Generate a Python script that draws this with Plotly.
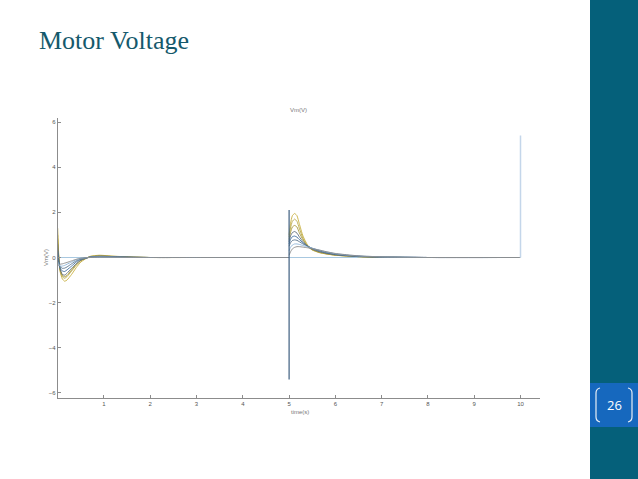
import plotly.graph_objects as go

# ---------------- data ----------------
t_a = [0.0, 0.02, 0.05, 0.1, 0.15, 0.2, 0.3, 0.4, 0.5, 0.7, 0.9, 1.2, 1.6, 2.0, 3.0, 4.99]
t_b = [5.0, 5.03, 5.07, 5.12, 5.17, 5.22, 5.3, 5.4, 5.5, 5.65, 5.8, 6.0, 6.3, 6.6, 7.0, 7.5, 8.0, 9.99]

seg1 = [
    [1.3, 0.2, -0.6, -0.95, -1.05, -1.0, -0.75, -0.45, -0.2, 0.05, 0.1, 0.06, 0.02, 0.0, 0.0, 0.0],
    [1.0, 0.1, -0.55, -0.85, -0.92, -0.85, -0.6, -0.35, -0.15, 0.04, 0.08, 0.05, 0.02, 0.0, 0.0, 0.0],
    [0.8, 0.05, -0.5, -0.8, -0.85, -0.8, -0.55, -0.3, -0.12, 0.03, 0.07, 0.04, 0.01, 0.0, 0.0, 0.0],
    [0.6, 0.0, -0.5, -0.75, -0.78, -0.7, -0.48, -0.28, -0.12, 0.02, 0.06, 0.04, 0.01, 0.0, 0.0, 0.0],
    [0.3, -0.1, -0.45, -0.6, -0.62, -0.55, -0.38, -0.2, -0.08, 0.02, 0.04, 0.03, 0.01, 0.0, 0.0, 0.0],
    [0.0, -0.2, -0.4, -0.48, -0.47, -0.42, -0.28, -0.15, -0.06, 0.01, 0.03, 0.02, 0.01, 0.0, 0.0, 0.0],
    [-0.2, -0.3, -0.38, -0.38, -0.35, -0.3, -0.2, -0.1, -0.04, 0.01, 0.02, 0.01, 0.0, 0.0, 0.0, 0.0],
    [-0.4, -0.35, -0.3, -0.28, -0.25, -0.22, -0.15, -0.08, -0.03, 0.0, 0.01, 0.01, 0.0, 0.0, 0.0, 0.0],
]
seg2 = [
    [1.0, 1.5, 1.85, 1.95, 1.85, 1.5, 0.95, 0.55, 0.35, 0.22, 0.16, 0.1, 0.06, 0.03, 0.01, 0.0, 0.0, 0.0],
    [0.9, 1.3, 1.6, 1.7, 1.6, 1.3, 0.85, 0.5, 0.33, 0.22, 0.16, 0.1, 0.06, 0.03, 0.01, 0.0, 0.0, 0.0],
    [0.8, 1.1, 1.35, 1.42, 1.35, 1.1, 0.78, 0.5, 0.35, 0.24, 0.17, 0.11, 0.06, 0.03, 0.01, 0.0, 0.0, 0.0],
    [0.7, 0.95, 1.1, 1.15, 1.08, 0.92, 0.7, 0.5, 0.37, 0.26, 0.19, 0.12, 0.07, 0.04, 0.02, 0.01, 0.0, 0.0],
    [0.6, 0.8, 0.92, 0.95, 0.9, 0.8, 0.65, 0.5, 0.4, 0.29, 0.21, 0.14, 0.08, 0.04, 0.02, 0.01, 0.0, 0.0],
    [0.5, 0.65, 0.75, 0.78, 0.76, 0.7, 0.6, 0.5, 0.41, 0.31, 0.23, 0.15, 0.09, 0.05, 0.02, 0.01, 0.0, 0.0],
    [0.3, 0.45, 0.55, 0.6, 0.6, 0.58, 0.53, 0.47, 0.41, 0.33, 0.25, 0.17, 0.1, 0.06, 0.03, 0.01, 0.0, 0.0],
    [0.1, 0.25, 0.38, 0.45, 0.48, 0.48, 0.46, 0.43, 0.39, 0.33, 0.26, 0.18, 0.11, 0.06, 0.03, 0.01, 0.0, 0.0],
]
curve_colors = ["#C8B040", "#B8A848", "#A89A3C", "#5F6B78", "#3F6F9F", "#55708A", "#8FB5D8", "#8A8A8A"]

spike5_t = [5.0, 5.0]
spike5_v = [-5.4, 2.1]
spike10_t = [10.0, 10.0]
spike10_v = [0.0, 5.4]
base_t = [0.0, 10.0]
base_v = [0.0, 0.0]

x_ticks = [1, 2, 3, 4, 5, 6, 7, 8, 9, 10]
y_ticks = [-6, -4, -2, 0, 2, 4, 6]

W, H = 638, 479
def px(x):
    return x / W
def py(y):
    return 1 - y / H

fig = go.Figure()
fig.add_trace(go.Scatter(x=base_t, y=base_v, mode="lines",
                         line=dict(color="#A8C8E0", width=1), hoverinfo="skip"))
for i in range(len(seg1)):
    fig.add_trace(go.Scatter(x=t_a, y=seg1[i], mode="lines",
                             line=dict(color=curve_colors[i], width=0.9, shape="spline", smoothing=0.5)))
    fig.add_trace(go.Scatter(x=t_b, y=seg2[i], mode="lines",
                             line=dict(color=curve_colors[i], width=0.9, shape="spline", smoothing=0.5)))
fig.add_trace(go.Scatter(x=spike5_t, y=spike5_v, mode="lines",
                         line=dict(color="#3E5F80", width=1.2)))
fig.add_trace(go.Scatter(x=spike10_t, y=spike10_v, mode="lines",
                         line=dict(color="#C4D6EA", width=1.5)))

axis_common = dict(showline=True, linecolor="#8c8c8c", linewidth=1, ticks="inside",
                   ticklen=3, tickcolor="#8c8c8c", showgrid=False, zeroline=False,
                   tickfont=dict(family="Liberation Sans", size=6, color="#555555"))
fig.update_layout(
    width=W, height=H, margin=dict(l=0, r=0, t=0, b=0),
    paper_bgcolor="white", plot_bgcolor="white", showlegend=False,
    xaxis=dict(domain=[px(57.7), px(540.4)], range=[0, 10.43], tickvals=x_ticks, **axis_common),
    yaxis=dict(domain=[py(397.5), py(117.5)], range=[-6.2, 6.2], tickvals=y_ticks, **axis_common),
)

shapes = [
    dict(type="rect", xref="paper", yref="paper", x0=px(590), x1=1.0, y0=0, y1=1,
         fillcolor="#05607A", line=dict(width=0), layer="below"),
    dict(type="rect", xref="paper", yref="paper", x0=px(590), x1=1.0, y0=py(427), y1=py(383),
         fillcolor="#1668BE", line=dict(width=0), layer="below"),
]
lb = "M {} {} Q {} {} {} {} L {} {} Q {} {} {} {}".format(
    px(600), py(388), px(596), py(389), px(596), py(393),
    px(596), py(417), px(596), py(421), px(600), py(422))
rb = "M {} {} Q {} {} {} {} L {} {} Q {} {} {} {}".format(
    px(628), py(388), px(632), py(389), px(632), py(393),
    px(632), py(417), px(632), py(421), px(628), py(422))
for p in (lb, rb):
    shapes.append(dict(type="path", xref="paper", yref="paper", path=p,
                       line=dict(color="#E8EEF6", width=1.2)))
fig.update_layout(shapes=shapes)

ann = [
    dict(text="Motor Voltage", x=px(37), y=py(40), xref="paper", yref="paper",
         xanchor="left", yanchor="middle", showarrow=False,
         font=dict(family="Liberation Serif", size=26, color="#15596C")),
    dict(text="26", x=px(614), y=py(405), xref="paper", yref="paper",
         xanchor="center", yanchor="middle", showarrow=False,
         font=dict(family="Open Sans", size=13, color="white")),
    dict(text="Vm(V)", x=px(298), y=py(110), xref="paper", yref="paper",
         xanchor="center", yanchor="middle", showarrow=False,
         font=dict(family="Liberation Sans", size=6, color="#777777")),
    dict(text="time(s)", x=px(300), y=py(412), xref="paper", yref="paper",
         xanchor="center", yanchor="middle", showarrow=False,
         font=dict(family="Liberation Sans", size=6, color="#777777")),
    dict(text="Vm(V)", x=px(46), y=py(258), xref="paper", yref="paper",
         xanchor="center", yanchor="middle", showarrow=False, textangle=-90,
         font=dict(family="Liberation Sans", size=6, color="#777777")),
]
fig.update_layout(annotations=ann)

fig.write_html("out.html",
               config={"displayModeBar": False},
               post_script="document.body.style.margin='0';"
                           "document.body.style.overflow='hidden';"
                           "document.documentElement.style.overflow='hidden';")
